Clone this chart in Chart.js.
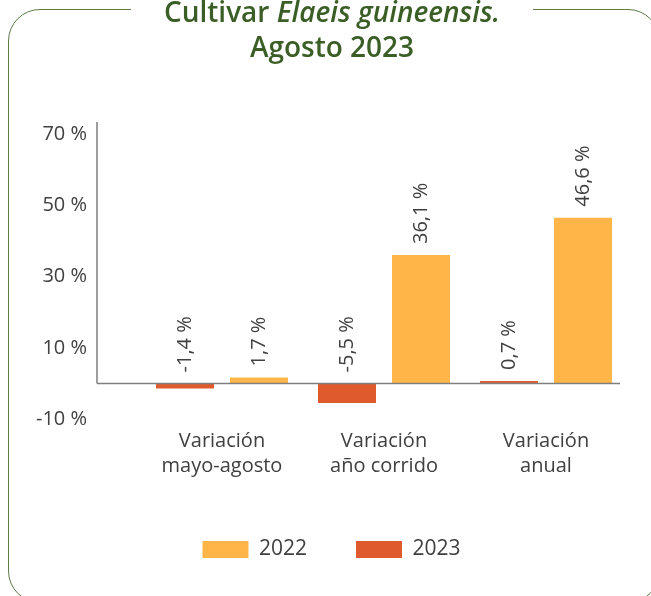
<!DOCTYPE html>
<html>
<head>
<meta charset="utf-8">
<script src="https://cdn.jsdelivr.net/npm/chart.js@4.4.0/dist/chart.umd.min.js"></script>
<style>
  html, body { margin: 0; padding: 0; background: #ffffff; overflow: hidden; width: 651px; height: 596px; }
  #frame {
    position: absolute; left: 8px; top: 9px; width: 652px; height: 594px;
    border: 1.5px solid #5d7c47; border-radius: 32px; box-sizing: border-box;
  }
  #title {
    position: absolute; left: 131px; top: -6px; width: 402px; background: #ffffff;
    text-align: center; color: #3b5e26; font-family: "Open Sans", sans-serif;
    font-weight: 600; font-size: 28px; line-height: 35px; white-space: nowrap;
  }
  #wrap { position: absolute; left: 0; top: 0; width: 651px; height: 596px; }
</style>
</head>
<body>
<div id="frame"></div>
<div id="wrap"><canvas id="c" width="651" height="596"></canvas></div>
<div id="title">Cultivar <i>Elaeis guineensis.</i><br>Agosto 2023</div>
<script>
const categories = [['Variación', 'mayo-agosto'], ['Variación', 'año corrido'], ['Variación', 'anual']];
const seriesNames = ['2023', '2022'];
const values2023 = [-1.4, -5.5, 0.7];
const values2022 = [1.7, 36.1, 46.6];
const yTickValues = [-10, 10, 30, 50, 70];
const color2023 = '#DF5B2E';
const color2022 = '#FFB547';

const textColor = '#404040';
const fontFamily = '"Open Sans", sans-serif';

function fmt(v) { return v.toFixed(1).replace('.', ',') + ' %'; }

const axisLinesPlugin = {
  id: 'axisLines',
  afterDatasetsDraw(chart) {
    const {ctx, chartArea, scales} = chart;
    const y0 = scales.y.getPixelForValue(0);
    const xl = chartArea.left - 44;
    ctx.save();
    ctx.strokeStyle = '#7f7f7f';
    ctx.lineWidth = 1.5;
    ctx.beginPath();
    ctx.moveTo(xl, chartArea.top);
    ctx.lineTo(xl, y0);
    ctx.moveTo(xl, y0);
    ctx.lineTo(chartArea.right - 7, y0);
    ctx.stroke();
    ctx.restore();
  }
};

const valueLabelsPlugin = {
  id: 'valueLabels',
  afterDatasetsDraw(chart) {
    const {ctx} = chart;
    ctx.save();
    ctx.fillStyle = textColor;
    ctx.font = '20px ' + fontFamily;
    ctx.textAlign = 'left';
    ctx.textBaseline = 'middle';
    chart.data.datasets.forEach((ds, di) => {
      const meta = chart.getDatasetMeta(di);
      meta.data.forEach((bar, i) => {
        const top = Math.min(bar.y, bar.base);
        ctx.save();
        ctx.translate(bar.x, top - 11);
        ctx.rotate(-Math.PI / 2);
        ctx.fillText(fmt(ds.data[i]), 0, 0);
        ctx.restore();
      });
    });
    ctx.restore();
  }
};

new Chart(document.getElementById('c'), {
  type: 'bar',
  data: {
    labels: categories,
    datasets: [
      { label: seriesNames[0], data: values2023, backgroundColor: color2023, categoryPercentage: 0.9136, barPercentage: 0.7838 },
      { label: seriesNames[1], data: values2022, backgroundColor: color2022, categoryPercentage: 0.9136, barPercentage: 0.7838 }
    ]
  },
  options: {
    responsive: false,
    animation: false,
    layout: { padding: { left: 36, right: 24, top: 122, bottom: 26 } },
    plugins: {
      title: { display: false },
      tooltip: { enabled: false },
      legend: {
        position: 'bottom',
        reverse: true,
        labels: {
          boxWidth: 46, boxHeight: 17, padding: 49,
          color: textColor,
          font: { family: fontFamily, size: 21 }
        }
      }
    },
    scales: {
      x: {
        grid: { display: false, drawTicks: false },
        border: { display: false },
        afterFit(scale) { scale.height = 71; },
        ticks: {
          color: textColor, padding: 10,
          font: { family: fontFamily, size: 20, lineHeight: 1.25 },
          maxRotation: 0, autoSkip: false
        }
      },
      y: {
        min: -10, max: 73.5,
        grid: { display: false, drawTicks: false },
        border: { display: false },
        afterFit(scale) { scale.width = 105; },
        afterBuildTicks(scale) { scale.ticks = yTickValues.map(v => ({ value: v })); },
        ticks: {
          color: textColor, padding: 54,
          font: { family: fontFamily, size: 20 },
          callback: (v) => v + ' %'
        }
      }
    }
  },
  plugins: [axisLinesPlugin, valueLabelsPlugin]
});
</script>
</body>
</html>
